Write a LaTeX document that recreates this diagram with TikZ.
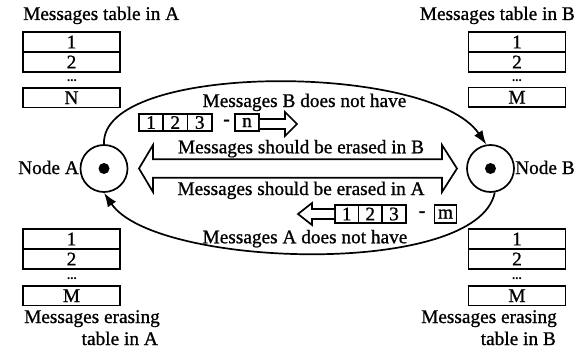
\documentclass[tikz,border=0pt]{standalone}
\usepackage{fontspec}
\setmainfont{Liberation Serif}
\newfontfamily\heavy{Liberation Serif}[FakeBold=0.9]
\usetikzlibrary{arrows.meta}
\newcommand\myfs{\fontsize{19.3}{22}\selectfont\heavy}
\tikzset{
  lw/.style={line width=1.7pt},
  cell/.style={draw, lw, minimum width=97pt, minimum height=20pt, inner sep=0pt, font=\myfs},
  sq/.style={draw, lw, minimum height=17.5pt, inner sep=0pt, font=\myfs},
  txt/.style={inner sep=0pt, font=\myfs},
  dotsmark/.style={inner sep=0pt, font=\fontsize{13}{13}\selectfont\bfseries},
  hyph/.style={inner sep=0pt, font=\myfs\bfseries},
  nodecirc/.style={draw, lw, circle, minimum size=47pt, inner sep=0pt, fill=white},
  curvearr/.style={lw, -{Latex[length=14pt,width=10pt]}},
  outline/.style={lw, line join=miter, fill=white}
}
\begin{document}
\begin{tikzpicture}[x=1pt,y=-1pt]
\useasboundingbox (0,0) rectangle (587,353);
% titles
\node[txt, anchor=base west] (titleA) at (23,20) {Messages table in A};
\node[txt, anchor=base east] (titleB) at (575,20) {Messages table in B};
% table A
\node[cell] (a1) at (71.5,42) {1};
\node[cell] (a2) at (71.5,62) {2};
\node[dotsmark, anchor=base] (adots) at (72,82) {...};
\node[cell, minimum height=19.5pt] (aN) at (71.5,97.75) {N};
% table B
\node[cell] (b1) at (517,42) {1};
\node[cell] (b2) at (517,62) {2};
\node[dotsmark, anchor=base] (bdots) at (517,82) {...};
\node[cell, minimum height=19.5pt] (bM) at (517,97.25) {M};
% erasing table A
\node[cell] (ea1) at (71.5,239) {1};
\node[cell] (ea2) at (71.5,259) {2};
\node[dotsmark, anchor=base] (eadots) at (72,279) {...};
\node[cell, minimum height=19.5pt] (eaM) at (71.5,295.75) {M};
\node[txt, anchor=base east] (capA1) at (160,323) {Messages erasing};
\node[txt, anchor=base east] (capA2) at (158,345) {table in A};
% erasing table B
\node[cell] (eb1) at (517,239) {1};
\node[cell] (eb2) at (517,259) {2};
\node[dotsmark, anchor=base] (ebdots) at (517,279) {...};
\node[cell, minimum height=19.5pt] (ebM) at (517,295.75) {M};
\node[txt, anchor=base east] (capB1) at (557,323) {Messages erasing};
\node[txt, anchor=base east] (capB2) at (556,345) {table in B};
% nodes
\node[nodecirc] (A) at (104,168.5) {};
\node[nodecirc] (B) at (490.5,168.5) {};
\fill (A.center) circle (5.5pt);
\fill (B.center) circle (5.5pt);
\node[txt, anchor=base east] (labA) at (79,174) {Node A};
\node[txt, anchor=base west] (labB) at (515,174) {Node B};
% curved arrows
\draw[curvearr] (A.north) .. controls (100,62) and (430,62) .. (B.100);
\draw[curvearr] (B.-80) .. controls (478,278) and (155,268) .. (A.south);
% upper labels
\node[txt, anchor=base] (lblB) at (304.5,107) {Messages B does not have};
\node[sq, minimum width=24pt] (u1) at (151,122.5) {1};
\node[sq, minimum width=24.5pt] (u2) at (175.25,122.5) {2};
\node[sq, minimum width=24.5pt] (u3) at (199.75,122.5) {3};
\node[hyph] (udash) at (226.5,122.5) {-};
\node[sq, minimum width=24pt] (un) at (247,122.5) {n};
\draw[outline] (un.east |- 0,119) -- (285,119) -- (285,112) -- (297,124) -- (285,136) -- (285,129) -- (un.east |- 0,129);
% double arrow
\draw[outline] (139,168.5) -- (153,145) -- (153,159.3) -- (442,159.3) -- (442,145) -- (457,168.5)
  -- (442,192) -- (442,177.7) -- (153,177.7) -- (153,192) -- cycle;
\node[txt, anchor=base] (erB) at (301,153.3) {Messages should be erased in B};
\node[txt, anchor=base] (erA) at (301,195) {Messages should be erased in A};
% lower labels
\node[sq, minimum width=23.5pt] (l1) at (346.75,214) {1};
\node[sq, minimum width=23.5pt] (l2) at (370.25,214) {2};
\node[sq, minimum width=24pt] (l3) at (394,214) {3};
\node[hyph] (ldash) at (422,214) {-};
\node[sq, minimum width=22pt] (lm) at (445.5,214) {m};
\draw[outline] (l1.west |- 0,209) -- (312,209) -- (312,203) -- (298,214) -- (312,225) -- (312,219) -- (l1.west |- 0,219);
\node[txt, anchor=base] (lblA) at (305,243.3) {Messages A does not have};
\end{tikzpicture}
\end{document}
